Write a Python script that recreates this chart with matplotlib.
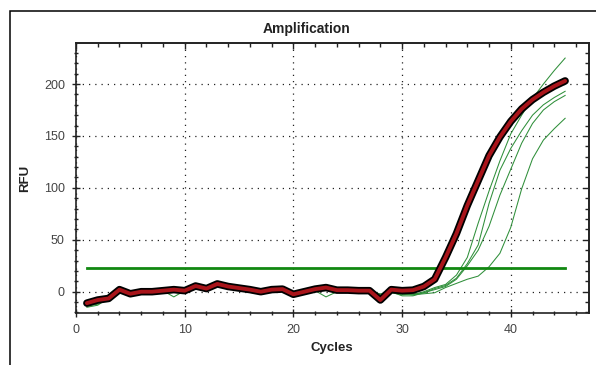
import matplotlib
matplotlib.use("Agg")
import matplotlib.pyplot as plt
import matplotlib.patheffects as pe
from matplotlib.patches import Rectangle
from matplotlib.ticker import MultipleLocator

plt.rcParams['font.family'] = ['Liberation Sans', 'DejaVu Sans']

cycles = list(range(1, 46))

selected_well = [-11, -8, -6.5, 2, -2, 0, 0, 1, 2, 1,
                 5.5, 3, 7.5, 5, 3.5, 2, 0, 2, 2.5, -2.5,
                 0, 2.5, 4, 1.5, 1.5, 1, 1, -8, 2, 1,
                 1.5, 5, 12, 33, 56, 83, 107, 131, 149, 164,
                 176, 185, 192, 198, 203]

well_a = [-14, -12, -7, 0, -3, -1, 0, 1, -5, 1,
          4, 3, 8, 6, 3, 1, 0, 2, 2, -2,
          0, 2, 3, 1, 1, 0, 1, -6, 0, -2,
          -3, 0, 4, 7, 16, 33, 66, 97, 126, 152,
          170, 186, 200, 213, 225]

well_b = [-13, -10, -8, 1, -2, -1, 0, 0, 1, 0,
          5, 2, 7, 6, 2, 0, -1, 1, 3, -1,
          -1, 1, -5, 0, 1, 0, 0, -2, -1, -3,
          -2, -1, 3, 6, 13, 27, 45, 85, 117, 138,
          155, 170, 180, 187, 193]

well_c = [-15, -13, -6, 0, -3, 0, 1, 1, 1, 2,
          4, 4, 8, 7, 4, 2, 1, 2, 2, -3,
          0, 3, 2, 2, 1, 1, 0, -3, 0, -4,
          -4, -1, 2, 5, 12, 25, 40, 63, 93, 118,
          143, 162, 175, 183, 189]

well_d = [-12, -9, -7, 1, -1, -1, 0, 2, 1, 1,
          5, 3, 6, 5, 3, 1, 0, 3, 2, -2,
          1, 2, 3, 1, 2, 1, 1, -4, 1, -2,
          -3, -2, -1, 4, 8, 12, 15, 24, 37, 62,
          99, 128, 146, 157, 167]

threshold_x = [1, 45]
threshold_value = 23

x_major = [0, 10, 20, 30, 40]
y_major = [0, 50, 100, 150, 200]

W, H = 596, 365
fig = plt.figure(figsize=(W / 100, H / 100), dpi=100)
fig.patch.set_facecolor('white')

# outer frame
fig.patches.append(Rectangle((10 / W, -0.05), 1.2, (H - 11) / H + 0.05,
                             transform=fig.transFigure, fill=False,
                             edgecolor='black', linewidth=1.1))

ax = fig.add_axes([76 / W, (H - 313.3) / H, (588.5 - 76) / W, (313.3 - 42.7) / H])

green = '#2f8f3a'
for w in (well_d, well_c, well_b, well_a):
    ax.plot(cycles, w, color=green, lw=0.75, zorder=3)

ax.plot(threshold_x, [threshold_value] * len(threshold_x), color='#118811', lw=2.0, zorder=4)

ax.plot(cycles, selected_well, color='#a8141a', lw=2.8, zorder=5,
        solid_joinstyle='round', solid_capstyle='round',
        path_effects=[pe.Stroke(linewidth=5.4, foreground='black'), pe.Normal()])

ax.set_xlim(0, 47.15)
ax.set_ylim(-20.8, 239.8)

for a in (ax.xaxis,):
    a.set_major_locator(MultipleLocator(10))
    a.set_minor_locator(MultipleLocator(2))
ax.yaxis.set_major_locator(MultipleLocator(50))
ax.yaxis.set_minor_locator(MultipleLocator(10))
ax.set_xticks(x_major)
ax.set_yticks(y_major)

ax.grid(True, which='major', color='#222222', linestyle=(0, (1, 4)), linewidth=0.9)

ax.tick_params(which='both', direction='inout', top=False, right=False,
               labelsize=9, labelcolor='#444444', width=1.0, color='#222222')
ax.tick_params(which='major', length=6, pad=5)
ax.tick_params(which='minor', length=3.5)
for spine in ax.spines.values():
    spine.set_linewidth(1.2)
    spine.set_color('#222222')

# inward ticks on the top and right edges
top = ax.secondary_xaxis('top')
top.xaxis.set_major_locator(MultipleLocator(10))
top.xaxis.set_minor_locator(MultipleLocator(2))
top.tick_params(which='both', direction='in', labeltop=False, width=1.0, color='#222222')
top.tick_params(which='major', length=4)
top.tick_params(which='minor', length=3)
top.spines['top'].set_linewidth(1.2)
top.spines['top'].set_color('#222222')

right = ax.secondary_yaxis('right')
right.yaxis.set_major_locator(MultipleLocator(50))
right.yaxis.set_minor_locator(MultipleLocator(10))
right.tick_params(which='both', direction='in', labelright=False, width=1.0, color='#222222')
right.tick_params(which='major', length=4)
right.tick_params(which='minor', length=3)
right.spines['right'].set_linewidth(1.2)
right.spines['right'].set_color('#222222')

ax.set_xlabel('Cycles', fontsize=9.5, fontweight='bold', color='#222222', labelpad=4)
ax.set_ylabel('RFU', fontsize=9.5, fontweight='bold', color='#222222', labelpad=9)

fig.text(307 / W, 1 - 29 / H, 'Amplification', ha='center', va='center',
         fontsize=10, fontweight='bold', color='#222222')

fig.savefig('out.png', dpi=100)
